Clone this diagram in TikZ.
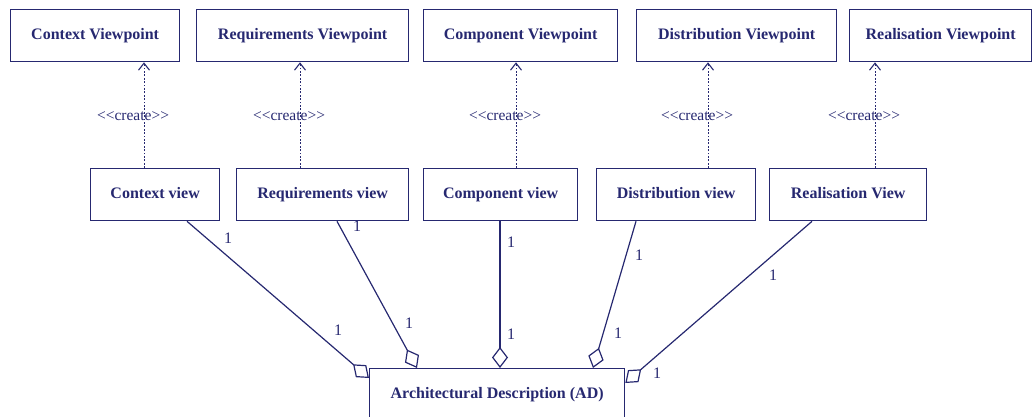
\documentclass[tikz,border=0pt]{standalone}
\usepackage{fontspec}
\setmainfont{Liberation Serif}
\usetikzlibrary{arrows.meta}
\definecolor{navy}{RGB}{38,40,112}

\tikzset{
  box/.style={draw=navy, line width=1.3pt, anchor=north west, inner sep=0pt,
    text=navy, font=\bfseries\fontsize{16}{19}\selectfont,
    text height=11pt, text depth=3pt},
  vpbox/.style={box, minimum height=52pt},
  viewbox/.style={box, minimum height=52pt},
  creates/.style={draw=navy, line width=1pt, dash pattern=on 1.8pt off 1.6pt,
    -{Straight Barb[length=7pt,width=11pt,line width=1.1pt]}},
  lbl/.style={text=navy, font=\fontsize{15.5}{18}\selectfont, inner sep=0pt},
  agg/.style={draw=navy, line width=1.2pt,
    -{Diamond[open,length=21pt,width=16pt,line width=1.2pt]}},
  mult/.style={text=navy, font=\fontsize{16}{19}\selectfont, inner sep=0pt},
}

\newcommand{\stereo}[1]{<\kern0pt<#1>\kern0pt>}

\begin{document}
\begin{tikzpicture}[x=1pt,y=-1pt]
  \useasboundingbox (0,0) rectangle (1032,417);
  \clip (0,0) rectangle (1032,417);

  % viewpoints
  \node[vpbox, minimum width=169pt] (ctxvp)  at (10,9)  {Context Viewpoint};
  \node[vpbox, minimum width=212pt] (reqvp)  at (196,9) {Requirements Viewpoint};
  \node[vpbox, minimum width=194pt] (compvp) at (423,9) {Component Viewpoint};
  \node[vpbox, minimum width=200pt] (distvp) at (636,9) {Distribution Viewpoint};
  \node[vpbox, minimum width=182pt] (realvp) at (849,9) {Realisation Viewpoint};

  % views
  \node[viewbox, minimum width=129pt] (ctxv)  at (90,168)  {Context view};
  \node[viewbox, minimum width=172pt] (reqv)  at (236,168) {Requirements view};
  \node[viewbox, minimum width=154pt] (compv) at (423,168) {Component view};
  \node[viewbox, minimum width=159pt] (distv) at (596,168) {Distribution view};
  \node[viewbox, minimum width=157pt] (realv) at (769,168) {Realisation View};

  % architectural description
  \node[box, minimum width=255pt, minimum height=52pt] (ad) at (369,368)
    {Architectural Description (AD)};

  % create dependencies
  \draw[creates] ([xshift=54pt]ctxv.north west) -- ([xshift=134pt]ctxvp.south west)
    node[lbl, pos=0.49, xshift=-11pt] (c1) {\stereo{create}};
  \draw[creates] ([xshift=64pt]reqv.north west) -- ([xshift=104pt]reqvp.south west)
    node[lbl, pos=0.49, xshift=-11pt] (c2) {\stereo{create}};
  \draw[creates] ([xshift=93pt]compv.north west) -- ([xshift=93pt]compvp.south west)
    node[lbl, pos=0.49, xshift=-11pt] (c3) {\stereo{create}};
  \draw[creates] ([xshift=112pt]distv.north west) -- ([xshift=72pt]distvp.south west)
    node[lbl, pos=0.49, xshift=-11pt] (c4) {\stereo{create}};
  \draw[creates] ([xshift=106pt]realv.north west) -- ([xshift=26pt]realvp.south west)
    node[lbl, pos=0.49, xshift=-11pt] (c5) {\stereo{create}};

  % aggregations
  \draw[agg] ([xshift=97pt]ctxv.south west)  -- ([yshift=-10pt]ad.north west);
  \draw[agg] ([xshift=101pt]reqv.south west) -- ([xshift=48pt]ad.north west);
  \draw[agg] ([xshift=77pt]compv.south west) -- ([xshift=131pt]ad.north west);
  \draw[agg] ([xshift=40pt]distv.south west) -- ([xshift=224pt]ad.north west);
  \draw[agg] ([xshift=43pt]realv.south west) -- ([yshift=-15pt]ad.north east);

  % multiplicities
  \node[mult] (m1a) at (228,238) {1};
  \node[mult] (m1b) at (338,330) {1};
  \node[mult] (m2a) at (357,226) {1};
  \node[mult] (m2b) at (409,323) {1};
  \node[mult] (m3a) at (511,242) {1};
  \node[mult] (m3b) at (511,334) {1};
  \node[mult] (m4a) at (639,255) {1};
  \node[mult] (m4b) at (618,333) {1};
  \node[mult] (m5a) at (773,275) {1};
  \node[mult] (m5b) at (657,373) {1};
\end{tikzpicture}
\end{document}
